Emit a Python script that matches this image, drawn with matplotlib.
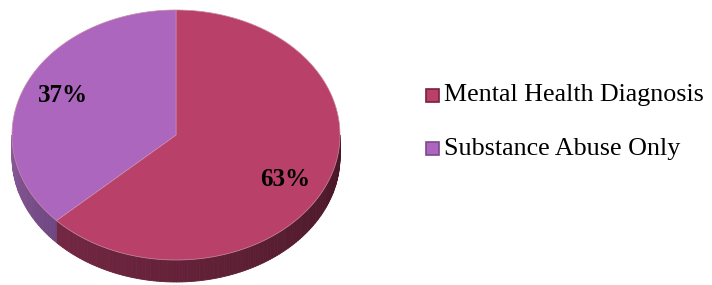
import numpy as np
import matplotlib.pyplot as plt
from matplotlib.patches import Polygon, Rectangle
from matplotlib.colors import to_rgb

# data
labels = ["Mental Health Diagnosis", "Substance Abuse Only"]
values = [63, 37]
pct_labels = ["63%", "37%"]

top_colors = ["#B94068", "#AD66BD"]
side_colors = [("#822C4B", "#471726"), ("#8A5A9A", "#6E4680")]

# pie geometry in pixel coords
cx, cy = 176, 135
a, b = 164, 125
depth = 22


def ell(theta_deg, dy=0):
    t = np.radians(theta_deg)
    return cx + a * np.sin(t), cy - b * np.cos(t) + dy


def mix(c1, c2, f):
    c1, c2 = np.array(to_rgb(c1)), np.array(to_rgb(c2))
    return tuple(c1 + (c2 - c1) * f)


fig = plt.figure(figsize=(7.12, 2.85), dpi=100)
ax = fig.add_axes([0, 0, 1, 1])
ax.set_xlim(0, 712)
ax.set_ylim(285, 0)
ax.axis("off")

fracs = np.array(values) / sum(values)
bounds = np.concatenate([[0], np.cumsum(fracs) * 360])

# side walls (front half only: 90..270 deg clockwise from top)
for i in range(len(values)):
    s, e = max(bounds[i], 90), min(bounds[i + 1], 270)
    if e <= s:
        continue
    angs = np.linspace(s, e, int(e - s) + 2)
    for j in range(len(angs) - 1):
        x0, y0 = ell(angs[j])
        x1, y1 = ell(angs[j + 1])
        # shading: darker toward right side
        f = (270 - angs[j]) / 180
        col = mix(side_colors[i][0], side_colors[i][1], f) if i == 0 else \
            mix(side_colors[i][1], side_colors[i][0], (angs[j] - 226) / 44)
        ax.add_patch(Polygon([(x0, y0), (x1, y1), (x1, y1 + depth), (x0, y0 + depth)],
                             closed=True, facecolor=col, edgecolor=col, lw=0.6))

# top faces
for i in range(len(values)):
    angs = np.linspace(bounds[i], bounds[i + 1], 200)
    pts = [(cx, cy)] + [ell(t) for t in angs]
    ax.add_patch(Polygon(pts, closed=True, facecolor=top_colors[i],
                         edgecolor="#C98AA8", lw=0.5))

# percentage labels
ax.text(285, 180, pct_labels[0], fontsize=18, fontweight="bold",
        family="Liberation Serif", ha="center", va="center")
ax.text(63, 96, pct_labels[1], fontsize=18, fontweight="bold",
        family="Liberation Serif", ha="center", va="center")

# legend
edge_cols = ["#7A2040", "#7A4A8A"]
for i, lab in enumerate(labels):
    yc = 95 + i * 53.5
    ax.add_patch(Rectangle((426, yc - 6.5), 13, 13, facecolor=top_colors[i],
                           edgecolor=edge_cols[i], lw=1.2))
    ax.text(444, yc + 0.5, lab, fontsize=18.7, family="Liberation Serif",
            ha="left", va="center")

fig.savefig("out.png", dpi=100)
